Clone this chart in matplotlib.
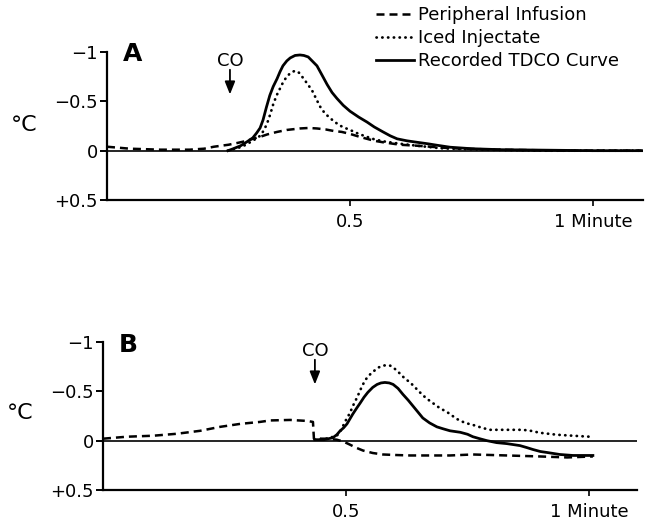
import matplotlib
matplotlib.use("Agg")
import matplotlib.pyplot as plt
from matplotlib.lines import Line2D

plt.rcParams['font.family'] = ['DejaVu Sans']

# ---------------- data (time in minutes, temperature change in degC; negative = colder) ----------------
# Panel A
a_periph_t = [0.0, 0.047, 0.11, 0.17, 0.20, 0.22, 0.25, 0.27, 0.288, 0.30, 0.315, 0.33, 0.35, 0.37, 0.397,
              0.415, 0.432, 0.45, 0.466, 0.483, 0.50, 0.52, 0.535, 0.55, 0.568, 0.603, 0.638, 0.706, 0.80,
              0.95, 1.10]
a_periph_v = [-0.04, -0.02, -0.01, -0.01, -0.02, -0.04, -0.06, -0.08, -0.10, -0.12, -0.14, -0.165, -0.19,
              -0.21, -0.225, -0.23, -0.225, -0.215, -0.20, -0.19, -0.17, -0.14, -0.12, -0.10, -0.085, -0.06,
              -0.05, -0.025, -0.01, 0.0, 0.0]

a_iced_t = [0.249, 0.278, 0.30, 0.315, 0.322, 0.329, 0.336, 0.342, 0.349, 0.356, 0.363, 0.37, 0.378, 0.387,
            0.395, 0.403, 0.412, 0.422, 0.43, 0.438, 0.448, 0.459, 0.469, 0.479, 0.49, 0.50, 0.518, 0.535,
            0.55, 0.568, 0.603, 0.638, 0.685, 0.77, 0.90, 1.10]
a_iced_v = [0.0, -0.04, -0.10, -0.15, -0.20, -0.27, -0.37, -0.47, -0.56, -0.63, -0.70, -0.75, -0.79, -0.81,
            -0.79, -0.74, -0.68, -0.61, -0.53, -0.45, -0.38, -0.33, -0.29, -0.255, -0.23, -0.21, -0.17,
            -0.14, -0.115, -0.095, -0.07, -0.05, -0.025, -0.01, 0.0, 0.0]

a_rec_t = [0.249, 0.26, 0.275, 0.288, 0.30, 0.308, 0.315, 0.321, 0.328, 0.335, 0.342, 0.35, 0.356, 0.362,
           0.37, 0.377, 0.387, 0.397, 0.405, 0.414, 0.422, 0.432, 0.442, 0.453, 0.463, 0.473, 0.486, 0.50,
           0.518, 0.535, 0.55, 0.568, 0.583, 0.597, 0.617, 0.638, 0.66, 0.679, 0.706, 0.75, 0.81, 1.0, 1.10]
a_rec_v = [0.0, -0.02, -0.05, -0.09, -0.13, -0.18, -0.23, -0.31, -0.44, -0.56, -0.65, -0.73, -0.80, -0.86,
           -0.91, -0.94, -0.965, -0.97, -0.965, -0.95, -0.91, -0.86, -0.77, -0.67, -0.59, -0.53, -0.46,
           -0.40, -0.34, -0.29, -0.24, -0.19, -0.15, -0.12, -0.10, -0.085, -0.07, -0.055, -0.035, -0.02,
           -0.01, 0.0, 0.0]

# Panel B
b_periph_t = [0.0, 0.049, 0.103, 0.152, 0.20, 0.241, 0.282, 0.323, 0.344, 0.385, 0.42, 0.432, 0.434, 0.46,
              0.481, 0.495, 0.508, 0.52, 0.535, 0.555, 0.576, 0.60, 0.632, 0.714, 0.761, 0.831, 0.899,
              0.955, 1.008]
b_periph_v = [-0.02, -0.04, -0.05, -0.07, -0.10, -0.14, -0.17, -0.19, -0.205, -0.21, -0.20, -0.19, -0.02,
              -0.02, -0.01, 0.01, 0.04, 0.07, 0.10, 0.125, 0.14, 0.145, 0.15, 0.15, 0.14, 0.15, 0.16,
              0.17, 0.16]

b_iced_t = [0.436, 0.46, 0.481, 0.488, 0.494, 0.50, 0.508, 0.515, 0.523, 0.531, 0.539, 0.547, 0.556, 0.566,
            0.576, 0.583, 0.591, 0.60, 0.611, 0.621, 0.632, 0.642, 0.652, 0.665, 0.679, 0.693, 0.708, 0.728,
            0.745, 0.761, 0.78, 0.796, 0.831, 0.864, 0.88, 0.899, 0.934, 0.967, 1.002]
b_iced_v = [-0.01, -0.02, -0.05, -0.09, -0.15, -0.21, -0.28, -0.36, -0.44, -0.53, -0.61, -0.66, -0.70,
            -0.74, -0.76, -0.765, -0.76, -0.73, -0.68, -0.63, -0.59, -0.54, -0.49, -0.43, -0.38, -0.33,
            -0.29, -0.22, -0.18, -0.16, -0.13, -0.11, -0.11, -0.11, -0.10, -0.08, -0.06, -0.05, -0.04]

b_rec_t = [0.436, 0.455, 0.473, 0.481, 0.488, 0.495, 0.502, 0.508, 0.514, 0.522, 0.529, 0.537, 0.545, 0.555,
           0.564, 0.572, 0.58, 0.589, 0.597, 0.607, 0.617, 0.628, 0.638, 0.648, 0.658, 0.672, 0.687, 0.70,
           0.714, 0.735, 0.75, 0.761, 0.775, 0.79, 0.81, 0.831, 0.858, 0.872, 0.885, 0.90, 0.914, 0.94,
           0.967, 1.008]
b_rec_v = [-0.01, -0.01, -0.03, -0.06, -0.10, -0.13, -0.17, -0.22, -0.27, -0.33, -0.38, -0.44, -0.49, -0.54,
           -0.57, -0.585, -0.59, -0.585, -0.57, -0.53, -0.47, -0.41, -0.35, -0.29, -0.23, -0.18, -0.14,
           -0.12, -0.10, -0.085, -0.065, -0.04, -0.02, 0.0, 0.02, 0.03, 0.05, 0.07, 0.09, 0.11, 0.12, 0.14,
           0.15, 0.15]

y_ticks = [-1.0, -0.5, 0.0, 0.5]
y_tick_labels = ['\u22121', '\u22120.5', '0', '+0.5']
x_ticks = [0.5, 1.0]
x_tick_labels = ['0.5', '1 Minute']
legend_labels = ['Peripheral Infusion', 'Iced Injectate', 'Recorded TDCO Curve']
co_time_a = 0.253
co_time_b = 0.436

# ---------------- styles ----------------
LW = 1.8
dash_style = dict(color='black', lw=LW, linestyle=(0, (3.2, 2.0)))
dot_style = dict(color='black', lw=LW * 1.1, linestyle=(0, (0.1, 2.0)), dash_capstyle='round')
solid_style = dict(color='black', lw=LW * 1.1, linestyle='-', solid_joinstyle='round')

W, H = 656, 520
fig = plt.figure(figsize=(W / 100, H / 100), dpi=100)


def make_axes(left_px, right_px, top_px, bottom_px, xmax):
    ax = fig.add_axes([left_px / W, 1 - bottom_px / H, (right_px - left_px) / W, (bottom_px - top_px) / H])
    ax.set_xlim(0, xmax)
    ax.set_ylim(0.5, -1.0)
    for s in ['top', 'right']:
        ax.spines[s].set_visible(False)
    ax.spines['left'].set_linewidth(1.6)
    ax.spines['bottom'].set_linewidth(1.6)
    ax.set_yticks(y_ticks)
    ax.set_yticklabels(y_tick_labels)
    ax.set_xticks(x_ticks)
    ax.set_xticklabels(x_tick_labels)
    ax.tick_params(axis='y', direction='out', length=5, width=1.4, pad=1.5, labelsize=13)
    ax.tick_params(axis='x', direction='out', length=4.3, width=1.2, pad=5, labelsize=13)
    ax.axhline(0, color='black', lw=1.2, zorder=1)
    ax.patch.set_visible(False)
    return ax


axA = make_axes(107, 643, 52, 200, 536 / 486)
axB = make_axes(103, 637, 342, 490, 534 / 486)

axA.plot(a_periph_t, a_periph_v, **dash_style)
axA.plot(a_iced_t, a_iced_v, **dot_style)
axA.plot(a_rec_t, a_rec_v, **solid_style)

axB.plot(b_periph_t, b_periph_v, **dash_style)
axB.plot(b_iced_t, b_iced_v, **dot_style)
axB.plot(b_rec_t, b_rec_v, **solid_style)

arrow_props = dict(arrowstyle='-|>,head_length=0.55,head_width=0.22', color='black', lw=1.3,
                   shrinkA=0, shrinkB=0, mutation_scale=14)
for ax, t in [(axA, co_time_a), (axB, co_time_b)]:
    ax.text(t, -0.86, 'CO', ha='center', va='baseline', fontsize=13)
    ax.annotate('', xy=(t, -0.57), xytext=(t, -0.82), arrowprops=arrow_props)

fig.text(123 / W, 1 - 61 / H, 'A', fontsize=18, fontweight='bold', va='baseline', ha='left')
fig.text(119 / W, 1 - 352 / H, 'B', fontsize=18, fontweight='bold', va='baseline', ha='left')
fig.text(24 / W, 1 - 125 / H, '°C', fontsize=16, ha='center', va='center')
fig.text(20 / W, 1 - 413 / H, '°C', fontsize=16, ha='center', va='center')

handles = [Line2D([], [], **dash_style), Line2D([], [], **dot_style), Line2D([], [], **solid_style)]
fig.legend(handles, legend_labels, loc='upper left', bbox_to_anchor=(376 / W, 1 - 6 / H),
           frameon=False, fontsize=13, handlelength=2.1, handletextpad=0.25,
           labelspacing=0.28, borderpad=0, borderaxespad=0)

fig.savefig('out.png', dpi=100)
